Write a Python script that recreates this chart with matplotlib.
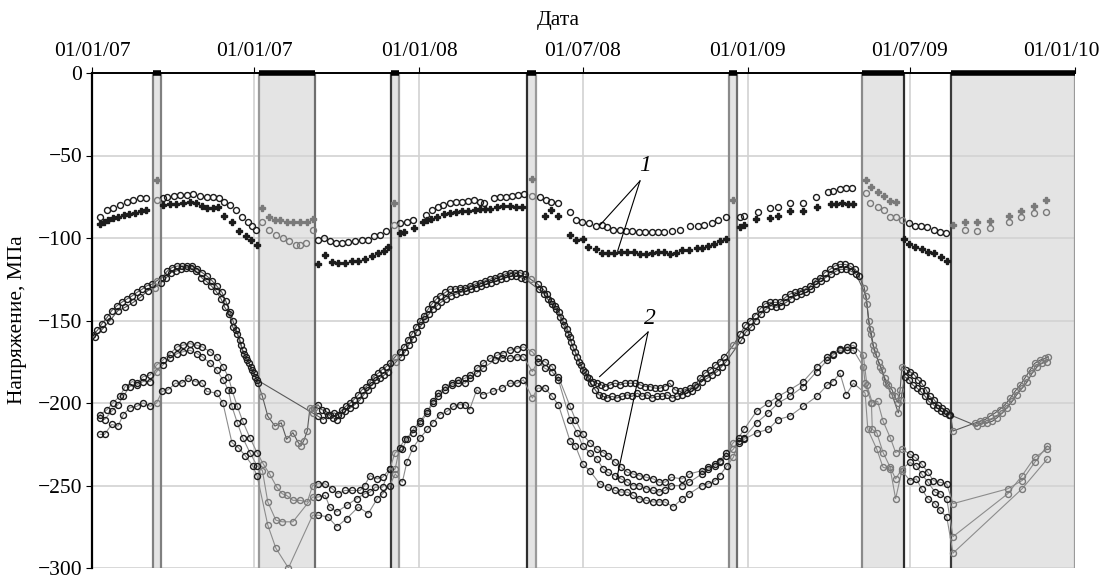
import numpy as np
import matplotlib
matplotlib.use('Agg')
import matplotlib.pyplot as plt
import matplotlib.transforms as mtransforms

plt.rcParams['font.family'] = ['Liberation Serif', 'DejaVu Serif']
plt.rcParams['font.size'] = 15

# x = days since 01.01.2007, y = stress, MPa
tick_days = [0, 181, 365, 547, 731, 912, 1096]
tick_labels = ['01/01/07', '01/01/07', '01/01/08', '01/07/08', '01/01/09', '01/07/09', '01/01/10']

# shaded periods (days)
spans = [(68, 77), (186, 249), (333, 342), (485, 495), (710, 719), (859, 905), (958, 1096)]

# series 1, open circles
g1o_day = [9, 17, 23, 31, 39, 46, 54, 60, 72, 79, 84, 91, 98, 106, 113, 120, 128, 135, 142, 147,
           154, 161, 167, 174, 178, 183, 190, 197, 205, 213, 220, 227, 232, 239, 246, 252, 259, 265,
           272, 279, 285, 293, 301, 308, 314, 321, 328, 337, 343, 351, 358, 372, 379, 386, 391, 399,
           406, 413, 419, 426, 433, 437, 448, 455, 462, 468, 475, 482, 491, 500, 506, 512, 520, 533,
           540, 546, 554, 562, 569, 574, 581, 589, 595, 602, 610, 617, 624, 631, 638, 647, 656, 667,
           676, 682, 691, 698, 707, 723, 727, 743, 756, 765, 778, 793, 807, 821, 826, 834, 841, 847,
           863, 867, 876, 883, 890, 896, 903, 911, 918, 924, 931, 939, 945, 952, 973, 987, 1001, 1022,
           1036, 1050, 1064]
g1o_val = [-87, -83, -82, -80, -78, -77, -76, -75.5, -77, -76, -75, -74.5, -74, -74, -73.5, -74.5,
           -75, -75, -76, -78, -80, -83, -87, -90, -93, -95, -90, -95, -98, -100, -102, -104, -104,
           -103, -95, -101, -100, -102, -103, -103, -102.5, -102, -101, -101, -99, -98, -96, -92,
           -91, -90, -89, -86, -83, -81, -80, -78.5, -78, -78, -77.5, -77, -78, -79, -75.5, -75,
           -75, -74.5, -74, -73.5, -74.5, -75, -77, -78, -78.5, -84.5, -89, -90, -91, -92.5, -92,
           -93.5, -95, -95, -95.5, -96, -96.5, -96.5, -96.5, -96.5, -96.5, -96, -95, -93, -93, -92,
           -91, -89, -87.5, -87, -86.5, -84, -82, -81, -78.5, -78.5, -75, -72, -71.5, -70, -69.5,
           -69.5, -72.5, -79, -81.5, -83, -87, -87.5, -89, -91, -92.5, -93, -93.5, -95, -96.5, -97,
           -95, -96, -94, -90, -87.5, -85, -84]

# series 1, filled markers
g1f_day = [9, 13, 18, 23, 29, 36, 41, 48, 55, 60, 72, 79, 87, 94, 101, 109, 116, 123, 128, 135,
           140, 147, 156, 164, 172, 177, 184, 190, 197, 204, 210, 217, 224, 232, 240, 246, 252, 260,
           268, 274, 282, 290, 297, 304, 312, 319, 326, 330, 337, 343, 348, 359, 369, 374, 378, 385,
           392, 399, 406, 413, 419, 427, 433, 438, 444, 452, 458, 466, 473, 479, 491, 505, 512, 520,
           533, 540, 547, 553, 562, 569, 575, 582, 590, 597, 604, 611, 618, 624, 631, 638, 644, 651,
           658, 666, 675, 680, 687, 694, 700, 707, 715, 723, 727, 740, 756, 765, 778, 793, 808, 824,
           830, 836, 843, 849, 863, 869, 876, 883, 890, 896, 905, 911, 918, 925, 932, 939, 947, 953,
           960, 973, 987, 1001, 1022, 1036, 1050, 1064]
g1f_val = [-91.8, -90, -88.8, -87.6, -87, -85.8, -85.2, -84.6, -83.4, -82.8, -64.8, -79.8, -79.2,
           -79.2, -78.6, -78, -78.6, -80.4, -81.6, -81.6, -81, -86.4, -90, -96, -99, -101.4, -104.4,
           -81.6, -87, -88.8, -88.8, -90.6, -90.6, -90, -90, -88.2, -115.8, -110.4, -114.6, -115.2,
           -115.2, -114, -114, -112.8, -111, -109, -108, -105.6, -78.6, -97.2, -96.6, -94.2, -90,
           -88.8, -88.2, -87, -85.2, -84.6, -84, -83.4, -83.4, -82.8, -82.2, -82.2, -82.2, -81,
           -80.4, -80.4, -81, -81, -64.2, -86.4, -82.8, -86.4, -98.4, -101.4, -100.8, -105.6, -106.8,
           -109.2, -109.2, -109.2, -108.6, -108.6, -108.6, -109.8, -109.8, -109.2, -108.6, -108.6,
           -109.8, -109.2, -107.4, -107.4, -106.2, -106.2, -105, -103.8, -102, -100.8, -76.8, -93.6,
           -92.4, -88.2, -87.6, -86.4, -83.4, -83.4, -81, -79.2, -79.2, -78.6, -79.2, -79.2, -64.8,
           -69, -72, -74.4, -77.4, -78, -100.8, -103.8, -105.6, -106.8, -108.6, -109.2, -111.6, -114,
           -92.4, -90.6, -90, -89.4, -86.4, -83.4, -80.4, -76.8]

# series 2, middle band (two overlapping records)
g2a_day = [0, 6, 11, 17, 22, 28, 33, 39, 45, 50, 56, 61, 67, 72, 78, 84, 89, 95, 100, 106, 111,
           117, 123, 128, 134, 139, 145, 149, 154, 157, 161, 165, 168, 172, 175, 178, 182, 185, 190,
           196, 204, 211, 217, 224, 230, 233, 236, 240, 243, 248, 252, 256, 261, 265, 270, 274, 279,
           283, 288, 292, 297, 301, 306, 310, 314, 319, 323, 328, 332, 338, 343, 348, 352, 357, 361,
           366, 370, 375, 379, 384, 388, 394, 399, 405, 410, 416, 421, 427, 433, 438, 444, 449, 455,
           460, 466, 472, 477, 483, 489, 497, 503, 507, 512, 516, 521, 525, 530, 533, 536, 541, 545,
           550, 554, 559, 563, 568, 572, 578, 583, 589, 594, 600, 605, 611, 617, 622, 628, 633, 639,
           644, 650, 656, 661, 667, 672, 678, 683, 689, 695, 700, 705, 715, 723, 728, 734, 739, 745,
           750, 756, 762, 767, 773, 778, 784, 789, 795, 801, 806, 812, 817, 823, 828, 834, 840, 845,
           851, 855, 861, 864, 866, 869, 871, 874, 877, 881, 884, 888, 892, 895, 899, 901, 903, 908,
           912, 917, 921, 925, 930, 934, 939, 943, 948, 952, 957, 960, 985, 990, 996, 1001, 1007,
           1012, 1018, 1024, 1029, 1035, 1040, 1046, 1051, 1057, 1063, 1066]
g2a_val = [-159, -156, -152, -148, -144, -141, -139, -137, -135, -133, -131, -129, -128, -126, -124,
           -120, -118, -117, -117, -117, -117, -119, -121, -123, -126, -129, -133, -138, -145, -150,
           -156, -162, -168, -172, -176, -180, -184, -188, -196, -208, -214, -212, -222, -218, -224,
           -226, -223, -217, -203, -203, -201, -204, -205, -207, -206, -207, -204, -202, -200, -198,
           -195, -192, -190, -187, -184, -182, -180, -178, -176, -172, -169, -166, -162, -158, -154,
           -150, -147, -143, -140, -137, -135, -133, -131, -131, -130, -130, -129, -128, -127, -126,
           -125, -124, -123, -122, -121, -121, -121, -122, -125, -128, -131, -134, -138, -141, -145,
           -150, -155, -160, -166, -172, -177, -181, -185, -187, -188, -189, -190, -189, -188, -189,
           -188, -188, -188, -189, -190, -190, -191, -191, -190, -188, -192, -193, -192, -191, -189,
           -185, -182, -180, -177, -175, -172, -165, -158, -153, -150, -147, -143, -140, -139, -139,
           -139, -136, -134, -133, -132, -131, -129, -126, -124, -121, -119, -117, -116, -116, -117,
           -119, -123, -130, -140, -150, -158, -165, -170, -175, -180, -185, -189, -192, -196, -200,
           -192, -178, -180, -181, -183, -186, -188, -192, -196, -198, -201, -203, -205, -207, -217,
           -212, -211, -210, -208, -206, -204, -201, -197, -193, -189, -185, -180, -176, -174, -173,
           -172]
g2b_day = [3, 12, 20, 29, 37, 46, 54, 62, 70, 77, 83, 88, 94, 99, 105, 110, 116, 122, 127, 133,
           138, 144, 148, 153, 157, 162, 166, 169, 173, 177, 181, 184, 246, 252, 258, 263, 269, 273,
           278, 282, 288, 293, 299, 303, 308, 312, 317, 321, 326, 330, 339, 345, 349, 353, 358, 362,
           367, 371, 376, 380, 385, 389, 395, 400, 406, 411, 417, 423, 428, 434, 439, 445, 450, 456,
           462, 467, 473, 478, 483, 498, 504, 508, 513, 517, 522, 526, 531, 534, 539, 543, 547, 552,
           556, 561, 565, 570, 574, 580, 585, 591, 597, 602, 608, 613, 619, 624, 630, 636, 641, 647,
           652, 658, 663, 669, 675, 680, 686, 691, 697, 702, 707, 724, 729, 735, 740, 746, 752, 757,
           763, 768, 774, 779, 785, 791, 796, 802, 807, 813, 818, 824, 830, 835, 841, 846, 852, 863,
           867, 872, 879, 885, 892, 899, 902, 906, 911, 915, 920, 924, 929, 933, 938, 942, 947, 951,
           956, 987, 992, 998, 1004, 1009, 1015, 1020, 1026, 1031, 1037, 1043, 1048, 1054, 1059, 1065]
g2b_val = [-160, -155, -150, -144, -142, -139, -136, -132, -130, -127, -124, -121, -120, -119, -118,
           -118, -120, -124, -126, -129, -132, -137, -142, -146, -154, -158, -165, -170, -174, -178,
           -182, -186, -206, -208, -210, -207, -209, -210, -207, -205, -203, -201, -198, -195, -192,
           -189, -186, -185, -183, -181, -175, -172, -169, -165, -161, -157, -153, -149, -146, -143,
           -141, -139, -137, -135, -134, -133, -132, -131, -130, -129, -128, -127, -126, -125, -124,
           -123, -123, -124, -125, -131, -134, -137, -140, -143, -148, -153, -158, -163, -169, -175,
           -180, -184, -188, -192, -195, -196, -197, -196, -197, -196, -195, -196, -194, -196, -195,
           -197, -196, -196, -195, -197, -196, -195, -194, -193, -190, -187, -185, -183, -181, -178,
           -175, -162, -157, -154, -150, -146, -143, -141, -142, -141, -139, -137, -135, -134, -133,
           -131, -128, -126, -124, -122, -120, -119, -119, -120, -122, -135, -155, -168, -178, -188,
           -195, -206, -198, -184, -186, -189, -191, -193, -196, -199, -201, -203, -205, -206, -207,
           -214, -212, -212, -211, -209, -206, -203, -199, -195, -191, -187, -182, -178, -176, -175]

# series 2, lower band (three records)
g3a_day = [9, 17, 23, 31, 37, 45, 50, 57, 65, 72, 79, 87, 95, 101, 109, 117, 123, 132, 139, 146,
           152, 156, 162, 168, 176, 184, 191, 198, 206, 212, 217, 224, 232, 240, 246, 252, 260, 268,
           274, 282, 290, 299, 304, 310, 318, 324, 332, 338, 346, 351, 358, 366, 374, 380, 386, 394,
           401, 408, 416, 421, 429, 436, 444, 452, 458, 466, 474, 481, 491, 497, 505, 513, 520, 533,
           539, 547, 555, 563, 570, 575, 583, 590, 597, 603, 610, 618, 626, 632, 639, 646, 658, 666,
           680, 687, 695, 700, 707, 715, 721, 727, 741, 754, 765, 778, 793, 808, 820, 826, 834, 842,
           849, 860, 864, 870, 876, 882, 890, 896, 903, 912, 918, 925, 932, 938, 945, 953, 960, 1021,
           1037, 1051, 1065]
g3a_val = [-207, -204, -200, -196, -190, -187, -188, -184, -183, -177, -174, -170, -166, -165, -164,
           -165, -166, -169, -172, -178, -184, -192, -202, -211, -221, -230, -237, -243, -251, -255,
           -256, -259, -259, -260, -250, -249, -249, -252, -255, -253, -253, -253, -250, -244, -246,
           -245, -240, -230, -228, -222, -216, -211, -205, -199, -194, -190, -188, -186, -185, -183,
           -179, -176, -173, -171, -170, -168, -167, -166, -169, -173, -175, -178, -184, -202, -210,
           -219, -224, -228, -230, -232, -236, -239, -242, -243, -244, -245, -246, -248, -248, -245,
           -246, -243, -241, -239, -237, -235, -230, -224, -221, -216, -205, -200, -196, -192, -187,
           -178, -172, -170, -167, -166, -165, -171, -189, -200, -199, -211, -221, -230, -228, -231,
           -233, -237, -242, -247, -248, -249, -261, -252, -247, -236, -226]
g3b_day = [9, 14, 22, 29, 35, 42, 50, 57, 65, 72, 79, 87, 95, 101, 109, 117, 123, 132, 139, 146,
           152, 156, 162, 168, 176, 184, 190, 196, 205, 212, 224, 246, 252, 260, 265, 273, 284, 295,
           304, 310, 316, 324, 332, 338, 343, 349, 358, 366, 374, 380, 386, 394, 401, 408, 416, 421,
           429, 436, 449, 457, 466, 474, 481, 491, 497, 505, 513, 520, 533, 541, 547, 555, 563, 570,
           575, 583, 590, 597, 603, 610, 618, 626, 632, 639, 646, 658, 666, 680, 687, 695, 700, 707,
           715, 721, 727, 741, 754, 765, 778, 793, 808, 820, 826, 834, 842, 849, 860, 862, 869, 870,
           875, 882, 890, 896, 903, 912, 919, 925, 932, 940, 945, 953, 960, 1021, 1037, 1051, 1065]
g3b_val = [-209, -210, -205, -201, -196, -190, -189, -187, -187, -181, -177, -173, -170, -169, -168,
           -170, -172, -176, -180, -186, -192, -202, -212, -221, -230, -238, -241, -260, -271, -272,
           -272, -257, -257, -256, -263, -266, -262, -258, -255, -254, -251, -251, -240, -240, -227,
           -222, -218, -212, -206, -200, -196, -192, -189, -188, -188, -185, -182, -179, -174, -173,
           -173, -172, -172, -181, -175, -179, -181, -186, -210, -218, -226, -230, -234, -240, -242,
           -244, -246, -248, -250, -250, -252, -253, -254, -253, -250, -250, -248, -243, -240, -238,
           -236, -232, -228, -223, -221, -212, -206, -200, -196, -190, -181, -174, -171, -168, -168,
           -168, -178, -188, -200, -216, -218, -230, -239, -246, -240, -236, -238, -243, -248, -254,
           -255, -258, -281, -255, -244, -233, -228]
g3c_day = [9, 14, 22, 29, 35, 42, 50, 57, 65, 72, 78, 85, 93, 100, 107, 115, 123, 128, 139, 146,
           156, 163, 171, 179, 184, 196, 205, 219, 246, 252, 263, 273, 284, 297, 308, 318, 324, 332,
           338, 346, 351, 358, 366, 374, 380, 388, 396, 403, 410, 416, 421, 429, 436, 447, 457, 466,
           474, 481, 491, 497, 505, 513, 520, 533, 539, 547, 555, 566, 575, 583, 590, 597, 603, 610,
           618, 626, 632, 639, 648, 658, 666, 680, 687, 695, 700, 708, 715, 721, 727, 741, 754, 765,
           778, 793, 808, 820, 826, 834, 841, 849, 862, 865, 875, 882, 890, 896, 903, 912, 919, 925,
           932, 940, 945, 953, 960, 1037, 1065]
g3c_val = [-219, -219, -213, -214, -207, -203, -202, -200, -202, -200, -193, -192, -188, -188, -185,
           -187, -188, -193, -194, -200, -224, -227, -232, -238, -244, -274, -288, -300, -268, -268,
           -269, -275, -270, -263, -267, -258, -255, -250, -243, -248, -236, -227, -221, -216, -212,
           -207, -205, -202, -201, -201, -204, -192, -195, -193, -191, -188, -188, -186, -197, -191,
           -191, -196, -201, -223, -226, -237, -241, -249, -251, -253, -254, -254, -256, -258, -259,
           -260, -260, -260, -263, -258, -255, -250, -249, -247, -244, -238, -233, -224, -222, -218,
           -216, -210, -208, -202, -196, -189, -187, -182, -195, -188, -194, -216, -228, -239, -240,
           -258, -241, -247, -246, -252, -258, -261, -265, -269, -291, -252, -234]

DARK = '#1c1c1c'
GREY = '#7a7a7a'


def in_spans(x):
    m = np.zeros(len(x), dtype=bool)
    for a, b in spans:
        m |= (x > a) & (x < b)
    return m


def draw(ax, days, vals, marker='o', ms=4.3, filled=False, line=None):
    x = np.array(days, dtype=float)
    y = np.array(vals, dtype=float)
    if line:
        ax.plot(x, y, color=line, lw=0.8, zorder=2)
    inside = in_spans(x)
    for mask, col in ((~inside, DARK), (inside, GREY)):
        ax.plot(x[mask], y[mask], ls='none', marker=marker, ms=ms,
                mfc=col if filled else 'none', mec=col, mew=1.0, zorder=3)


fig = plt.figure(figsize=(11.03, 5.8), dpi=100)
ax = fig.add_axes([92 / 1103, 12 / 580, 983 / 1103, 495 / 580])
ax.set_xlim(0, 1096)
ax.set_ylim(-300, 0)

# shaded periods
left_edge = ['#808080', '#9a9a9a', '#3a3a3a', '#2e2e2e', '#8a8a8a', '#8a8a8a', '#3a3a3a']
right_edge = ['#808080', '#6e6e6e', '#9a9a9a', '#9a9a9a', '#6e6e6e', '#2e2e2e', '#9a9a9a']
for (a, b), lc, rc in zip(spans, left_edge, right_edge):
    ax.axvspan(a, b, color='#e4e4e4', lw=0, zorder=0.2)
    ax.axvline(a, color=lc, lw=1.6, zorder=1)
    ax.axvline(b, color=rc, lw=1.6, zorder=1)
    ax.plot([a, b], [0, 0], color='black', lw=4, solid_capstyle='butt',
            clip_on=False, zorder=6)

ax.set_xticks(tick_days)
ax.set_xticklabels(tick_labels)
ax.set_yticks(np.arange(-300, 1, 50))
ax.set_axisbelow(True)
ax.grid(color='#d2d2d2', lw=1.2)

draw(ax, g3a_day, g3a_val, line='#8c8c8c')
draw(ax, g3b_day, g3b_val, line='#8c8c8c')
draw(ax, g3c_day, g3c_val, line='#8c8c8c')
draw(ax, g2b_day, g2b_val, line='#5a5a5a')
draw(ax, g2a_day, g2a_val, line='#5a5a5a')
draw(ax, g1o_day, g1o_val)
draw(ax, g1f_day, g1f_val, marker='P', ms=4.8, filled=True)

# labels 1 and 2
ax.text(617, -56, '1', style='italic', fontsize=17, ha='center', va='center')
ax.plot([611, 566], [-65.4, -92.4], color='black', lw=0.8, zorder=5)
ax.plot([611, 586], [-65.4, -108], color='black', lw=0.8, zorder=5)
ax.text(622, -149, '2', style='italic', fontsize=17, ha='center', va='center')
ax.plot([620, 566], [-157, -184], color='black', lw=0.8, zorder=5)
ax.plot([620, 585], [-157, -246], color='black', lw=0.8, zorder=5)

ax.xaxis.tick_top()
ax.tick_params(axis='x', top=True, bottom=False, direction='out', length=4, pad=5,
               labelsize=15.5)
ax.tick_params(axis='y', direction='out', length=4, pad=3, labelsize=15.5)
ax.spines['bottom'].set_visible(False)
ax.spines['right'].set_visible(False)
ax.spines['top'].set_linewidth(1.4)
ax.spines['left'].set_linewidth(1.6)

# last date label sits slightly left so it stays inside the picture
last = ax.get_xticklabels()[-1]
last.set_transform(last.get_transform() +
                   mtransforms.ScaledTranslation(-14 / 100, 0, fig.dpi_scale_trans))

fig.text(558 / 1103, 1 - 20 / 580, 'Дата', ha='center', va='center', fontsize=15.5)
fig.text(18 / 1103, 1 - 320 / 580, 'Напряжение, МПа', ha='center', va='center',
         rotation=90, fontsize=15.5)

fig.savefig('out.png', dpi=100)
